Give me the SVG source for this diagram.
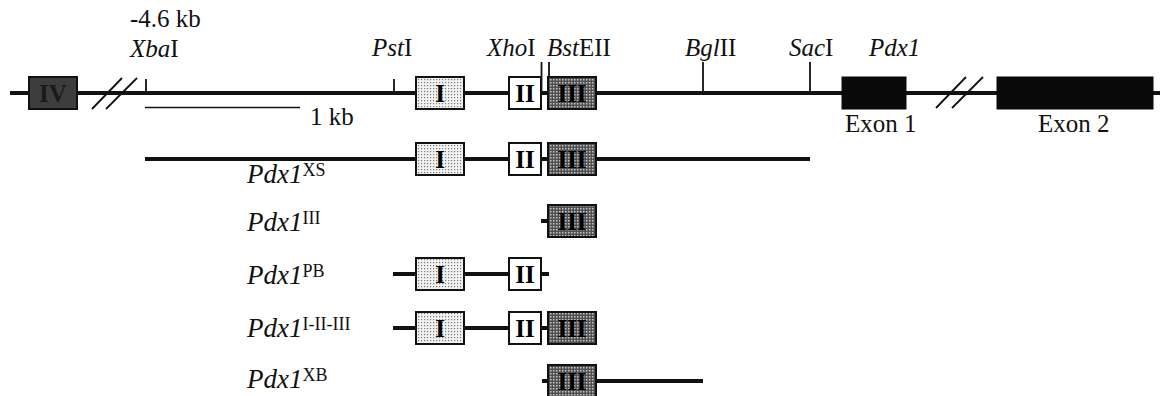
<svg xmlns="http://www.w3.org/2000/svg" width="1160" height="396" viewBox="0 0 1160 396">
<defs>
<pattern id="dotsLight" width="3" height="3" patternUnits="userSpaceOnUse">
<rect width="3" height="3" fill="#f2f2f2"/>
<rect x="1" y="1" width="1.2" height="1.2" fill="#7a7a7a"/>
</pattern>
<pattern id="dotsDark" width="3" height="3" patternUnits="userSpaceOnUse">
<rect width="3" height="3" fill="#505050"/>
<rect x="1" y="1" width="1.5" height="1.5" fill="#c4c4c4"/>
</pattern>
<style>
.t{font-family:"Liberation Serif","Times New Roman",serif;font-size:25px;fill:#111}
.lab{font-family:"Liberation Serif","Times New Roman",serif;font-size:27px;fill:#111}
.sup{font-size:18px;font-style:normal}
.it{font-style:italic}
.bx{font-family:"Liberation Serif","Times New Roman",serif;font-size:25px;font-weight:bold;text-anchor:middle;fill:#000}
.dna{stroke:#111;stroke-width:4;fill:none}
.tick{stroke:#111;stroke-width:1.8;fill:none}
.thin{stroke:#111;stroke-width:1.3;fill:none}
.b1{fill:url(#dotsLight);stroke:#111;stroke-width:2}
.b2{fill:#fff;stroke:#111;stroke-width:2}
.b3{fill:url(#dotsDark);stroke:#111;stroke-width:2}
.ex{fill:#0a0a0a;stroke:#0a0a0a;stroke-width:1}
</style>
</defs>

<g id="connectors">
<line class="dna" x1="10" y1="93" x2="1160" y2="93"/>
<line class="tick" x1="92" y1="109" x2="122" y2="78"/>
<line class="tick" x1="106" y1="109" x2="137" y2="78"/>
<line class="tick" x1="936" y1="108" x2="966" y2="77"/>
<line class="tick" x1="952" y1="108" x2="983" y2="77"/>
<line class="tick" x1="146" y1="79" x2="146" y2="93"/>
<line class="tick" x1="394" y1="79" x2="394" y2="93"/>
<line class="tick" x1="541.5" y1="62" x2="541.5" y2="93"/>
<line class="tick" x1="549" y1="62" x2="549" y2="77"/>
<line class="tick" x1="703" y1="62" x2="703" y2="93"/>
<line class="tick" x1="810" y1="62" x2="810" y2="93"/>
<line class="thin" x1="145" y1="107.5" x2="300" y2="107.5"/>
<line class="dna" x1="145" y1="159" x2="810" y2="159"/>
<line class="dna" x1="541" y1="221" x2="548" y2="221"/>
<line class="dna" x1="393" y1="274" x2="549" y2="274"/>
<line class="dna" x1="393" y1="328" x2="548" y2="328"/>
<line class="dna" x1="542" y1="381" x2="703" y2="381"/>
</g>

<g id="box-IV">
<rect x="29" y="77" width="48" height="32" fill="#3d3d3d" stroke="#111" stroke-width="2"/>
<text class="bx" x="53" y="102" style="fill:#1a1a1a">IV</text>
</g>
<g id="main-I"><rect class="b1" x="416" y="77" width="48" height="32"/><text class="bx" x="440" y="102">I</text></g>
<g id="main-II"><rect class="b2" x="509" y="77" width="32" height="32"/><text class="bx" x="525" y="102">II</text></g>
<g id="main-III"><rect class="b3" x="548" y="77" width="48" height="32"/><text class="bx" x="572" y="102">III</text></g>
<g id="exon1"><rect class="ex" x="842" y="77" width="64" height="32"/></g>
<g id="exon2"><rect class="ex" x="997" y="77" width="156" height="32"/></g>

<g id="labels-top">
<text class="t" x="130" y="27">-4.6 kb</text>
<text class="t" x="130" y="57"><tspan class="it">Xba</tspan>I</text>
<text class="t" x="372" y="56"><tspan class="it">Pst</tspan>I</text>
<text class="t" x="487" y="56"><tspan class="it">Xho</tspan>I</text>
<text class="t" x="547" y="56"><tspan class="it">Bst</tspan>EII</text>
<text class="t" x="685" y="56"><tspan class="it">Bgl</tspan>II</text>
<text class="t" x="789" y="56"><tspan class="it">Sac</tspan>I</text>
<text class="t it" x="869" y="56">Pdx1</text>
<text class="t" x="310" y="125">1 kb</text>
<text class="t" x="845" y="132">Exon 1</text>
<text class="t" x="1038" y="132">Exon 2</text>
</g>

<g id="row-XS">
<rect class="b1" x="416" y="143" width="48" height="32"/><text class="bx" x="440" y="168">I</text>
<rect class="b2" x="509" y="143" width="32" height="32"/><text class="bx" x="525" y="168">II</text>
<rect class="b3" x="548" y="143" width="48" height="32"/><text class="bx" x="572" y="168">III</text>
<text class="lab" x="247" y="183"><tspan class="it">Pdx1</tspan><tspan class="sup" dy="-7">XS</tspan></text>
</g>

<g id="row-III">
<rect class="b3" x="548" y="205" width="48" height="32"/><text class="bx" x="572" y="230">III</text>
<text class="lab" x="247" y="231"><tspan class="it">Pdx1</tspan><tspan class="sup" dy="-7">III</tspan></text>
</g>

<g id="row-PB">
<rect class="b1" x="416" y="258" width="48" height="32"/><text class="bx" x="440" y="283">I</text>
<rect class="b2" x="509" y="258" width="32" height="32"/><text class="bx" x="525" y="283">II</text>
<text class="lab" x="247" y="284"><tspan class="it">Pdx1</tspan><tspan class="sup" dy="-7">PB</tspan></text>
</g>

<g id="row-I-II-III">
<rect class="b1" x="416" y="312" width="48" height="32"/><text class="bx" x="440" y="337">I</text>
<rect class="b2" x="509" y="312" width="32" height="32"/><text class="bx" x="525" y="337">II</text>
<rect class="b3" x="548" y="312" width="48" height="32"/><text class="bx" x="572" y="337">III</text>
<text class="lab" x="247" y="337"><tspan class="it">Pdx1</tspan><tspan class="sup" dy="-7">I-II-III</tspan></text>
</g>

<g id="row-XB">
<rect class="b3" x="548" y="365" width="48" height="32"/><text class="bx" x="572" y="390">III</text>
<text class="lab" x="247" y="388"><tspan class="it">Pdx1</tspan><tspan class="sup" dy="-7">XB</tspan></text>
</g>
</svg>
